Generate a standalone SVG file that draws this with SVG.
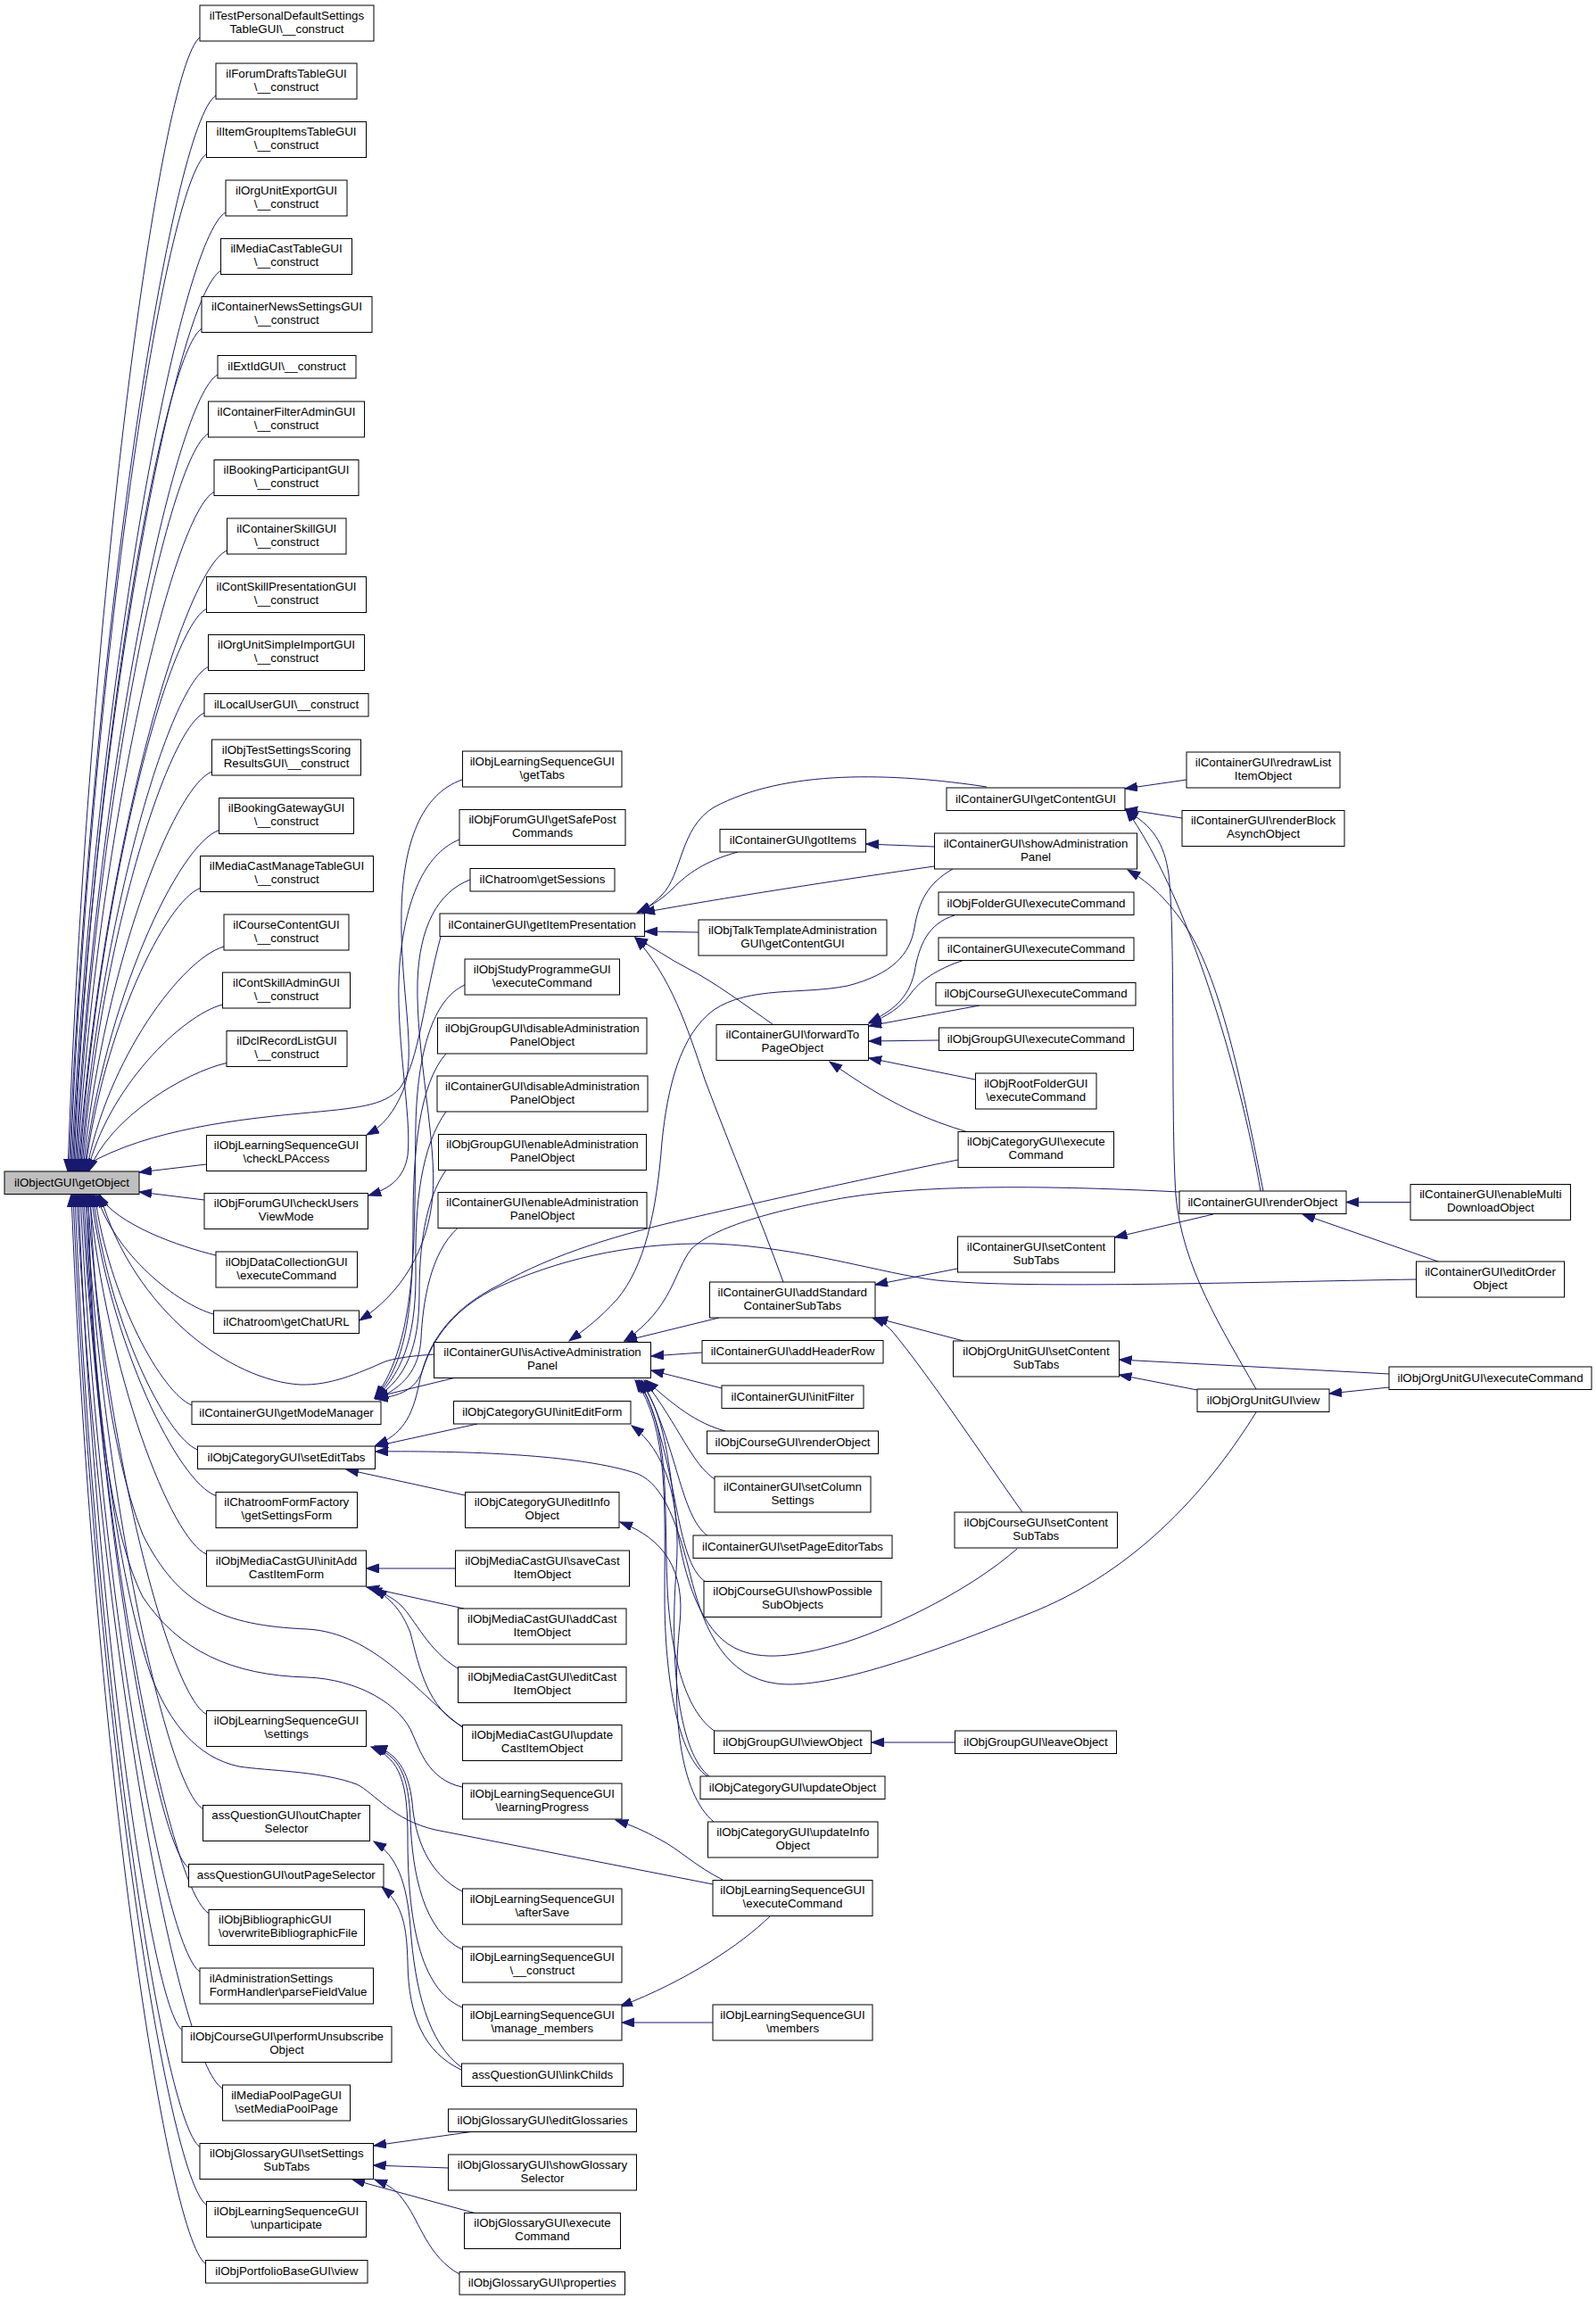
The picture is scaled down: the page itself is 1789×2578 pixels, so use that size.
<svg xmlns="http://www.w3.org/2000/svg" width="1789" height="2578" viewBox="0 0 1789 2578">
<defs>
<style>
.n rect{fill:#fff;stroke:#000;stroke-width:1}
.root rect{fill:#bfbfbf}
text{font-family:"Liberation Sans",Arial,Helvetica,sans-serif;font-size:13.33px;text-anchor:middle;fill:#000}
text.l{text-anchor:start}
.e path{fill:none;stroke:#191970;stroke-width:1;marker-end:url(#ah)}
</style>
<marker id="ah" markerUnits="userSpaceOnUse" markerWidth="15" markerHeight="11" refX="14" refY="5" orient="auto" viewBox="0 0 15 11">
<path d="M0,0 L14,5 L0,10 Z" fill="#191970" stroke="#191970" stroke-width="1"/>
</marker>
</defs>
<rect x="0" y="0" width="1789" height="2578" fill="#fff"/>
<g id="edges" class="e">
<path d="M224,42 C179.6,75.4 98.2,677.5 76,1313"/>
<path d="M242,107 C192.6,139.1 102,710 77.3,1313"/>
<path d="M231.5,172.5 C185.6,203.3 101.5,742.8 78.6,1313"/>
<path d="M253,238 C201.1,267.5 105.9,775.5 79.9,1313"/>
<path d="M247.5,303.5 C197.6,331.7 106.1,808.3 81.2,1313"/>
<path d="M226,368.5 C183,395.4 104,840.8 82.5,1313"/>
<path d="M244,420 C196,445.9 107.8,866.5 83.8,1313"/>
<path d="M233.5,486 C189,510.5 107.4,899.5 85.1,1313"/>
<path d="M240,551.5 C193.9,574.7 109.4,932.3 86.4,1313"/>
<path d="M254.5,617 C204.5,638.9 112.7,965 87.7,1313"/>
<path d="M231.5,682.5 C188.8,703.1 110.4,997.8 89,1313"/>
<path d="M233.5,747.5 C190.5,766.8 111.8,1030.3 90.3,1313"/>
<path d="M229,799 C187.8,817.3 112.2,1056 91.6,1313"/>
<path d="M237.5,865 C194.1,882 114.6,1089 92.9,1313"/>
<path d="M245.5,930.5 C200.1,946.2 116.9,1121.8 94.2,1313"/>
<path d="M224.5,995.5 C185.8,1009.9 114.9,1154.3 95.5,1313"/>
<path d="M251,1061 C204.7,1074 119.9,1187 96.8,1313"/>
<path d="M249.5,1126 C204.1,1137.7 120.8,1219.5 98.1,1313"/>
<path d="M254,1191.5 C207.6,1201.9 122.6,1252.3 99.4,1313"/>
<path d="M231.5,1305 L156,1314"/>
<path d="M229,1345 L156,1336"/>
<path d="M242,1407 C202.4,1397.6 129.8,1372.8 110,1338.5"/>
<path d="M239.5,1473 C200,1462.3 127.7,1405.8 108,1338.5"/>
<path d="M215,1575 C182.3,1562.3 122.4,1456.8 106,1338.5"/>
<path d="M221.5,1625 C186.3,1611.3 121.6,1481.8 104,1338.5"/>
<path d="M242,1676.5 C200,1661.7 123,1507.5 102,1338.5"/>
<path d="M231.5,1742 C192,1725.9 119.7,1540.3 100,1338.5"/>
<path d="M231.5,1921.5 C191.5,1901.8 118,1630 98,1338.5"/>
<path d="M227.5,2027.5 C188,2005.7 115.7,1683 96,1338.5"/>
<path d="M211.5,2093.5 C176.3,2070.4 111.6,1716 94,1338.5"/>
<path d="M234,2144.5 C191.4,2120.4 113.3,1741.5 92,1338.5"/>
<path d="M224,2210 C183.8,2184.6 110.1,1774.3 90,1338.5"/>
<path d="M204,2275.5 C169.2,2248.8 105.4,1807 88,1338.5"/>
<path d="M249.5,2341 C200.5,2313 110.5,1839.8 86,1338.5"/>
<path d="M224,2406.5 C182,2377.1 105,1872.5 84,1338.5"/>
<path d="M231.5,2471.5 C186.7,2440.8 104.4,1905 82,1338.5"/>
<path d="M230.5,2537.5 C185.4,2505.5 102.6,1938 80,1338.5"/>
<path d="M518,874 C472,890 452,945 450,1020 C448,1110 468,1180 452,1222 C442,1246 430,1262 411,1272"/>
<path d="M515,941 C480,955 455,1000 448,1080 C442,1160 462,1250 457,1295 C453,1320 438,1332 413,1340"/>
<path d="M527,986 C490,1000 470,1040 468,1100 C466,1180 490,1280 485,1340 C480,1400 450,1450 403,1480"/>
<path d="M494,1050 C475,1120 470,1190 448,1220 C430,1240 400,1242 337,1248 C250,1256 150,1270 85,1313"/>
<path d="M521,1104 C485,1120 468,1180 466,1260 C464,1380 470,1500 420,1567"/>
<path d="M500,1181 C470,1215 463,1290 463,1370 C463,1470 455,1530 420,1567"/>
<path d="M500,1246 C472,1285 465,1350 466,1420 C467,1490 455,1535 421,1567"/>
<path d="M500,1311.5 C476,1345 470,1400 470,1450 C470,1510 455,1545 421,1567"/>
<path d="M513,1376.5 C482,1405 474,1460 472,1500 C470,1535 452,1556 421,1568"/>
<path d="M509,1544.5 L421,1566"/>
<path d="M487,1518 C460,1520 445,1522 432,1526 C400,1540 370,1553 337,1552 C260,1548 150,1470 112,1339"/>
<path d="M535,1596 L421,1621"/>
<path d="M521,1676 L388,1647"/>
<path d="M1074,1300 C950,1325 840,1350 771,1366 C700,1382 620,1405 560,1440 C500,1470 478,1510 470,1550 C462,1590 450,1608 421,1620"/>
<path d="M1587.5,1434 C1400,1437 1150,1445 1050,1435 C990,1428 900,1398 800,1394 C700,1392 620,1415 560,1442 C510,1465 485,1500 474,1535 C466,1558 448,1565 421,1568"/>
<path d="M1322,1336 C1200,1330 1050,1326 950,1342 C870,1356 800,1375 775,1400 C755,1425 755,1465 700,1503"/>
<path d="M1408,1583 C1360,1660 1280,1760 1150,1810 C1050,1850 930,1895 870,1887 C815,1880 790,1830 775,1770 C760,1710 745,1665 715,1652 C650,1630 520,1626 421,1627"/>
<path d="M1140,1736 C1090,1780 1010,1820 950,1840 C900,1855 860,1862 830,1850 C790,1835 770,1780 760,1720 C750,1640 745,1580 716,1547"/>
<path d="M813,1604 C780,1595 755,1575 724,1547"/>
<path d="M801,1658 C775,1640 762,1600 722,1547"/>
<path d="M794,1722 C762,1700 760,1620 719,1547"/>
<path d="M791,1773 C755,1750 762,1640 717,1547"/>
<path d="M802,1941 C770,1920 752,1860 748,1780 C744,1680 752,1600 714,1547"/>
<path d="M793,1991 C760,1970 745,1880 745,1790 C745,1690 750,1600 712,1547"/>
<path d="M795,1991 C762,1965 750,1870 758,1760 C764,1680 745,1625 708,1598"/>
<path d="M800,2042 C762,2010 752,1920 762,1820 C768,1760 745,1725 695,1706"/>
<path d="M1070.5,1953 L977,1953"/>
<path d="M787,1516 L730,1520"/>
<path d="M809,1556 L730,1536"/>
<path d="M806,1477 L700,1503"/>
<path d="M878,1437 C850,1360 820,1290 790,1210 C770,1150 752,1095 712,1051"/>
<path d="M1068,974 C1040,990 1030,1010 1025,1040 C1020,1070 1000,1092 950,1105 C900,1115 840,1105 800,1132 C762,1160 748,1220 742,1280 C736,1360 722,1420 692,1456 C672,1478 656,1490 638,1503"/>
<path d="M1106,882 C1000,866 880,862 800,905 C762,928 765,980 742,1003 C732,1013 726,1017 716,1023"/>
<path d="M827,955 C790,965 770,980 755,995 C745,1005 735,1013 714,1023"/>
<path d="M1047,971 C950,985 800,1008 720,1023"/>
<path d="M1047,949 L971,946"/>
<path d="M783,1045 L723,1044"/>
<path d="M866,1148 C840,1130 800,1100 770,1085 C750,1075 733,1062 712,1051"/>
<path d="M1070,1026 C1040,1035 1030,1060 1025,1090 C1018,1120 1000,1133 974,1146"/>
<path d="M1081,1076 C1050,1086 1030,1100 1020,1115 C1008,1130 995,1139 974,1147"/>
<path d="M1098,1127 L974,1150"/>
<path d="M1052,1166 L974,1167"/>
<path d="M1093,1210 L974,1186"/>
<path d="M1085,1269 C1040,1255 1000,1240 930,1190"/>
<path d="M1413,1335 C1390,1200 1330,1000 1262,907"/>
<path d="M1408,1557 C1370,1490 1325,1420 1318,1340 C1312,1250 1318,1050 1310,980 C1305,945 1292,925 1262,908.5"/>
<path d="M1416,1335 C1395,1230 1370,1100 1330,1040 C1310,1010 1290,990 1264,975"/>
<path d="M1330,874 L1261,884"/>
<path d="M1325,917 L1261,907"/>
<path d="M1581,1347.5 L1509,1347.5"/>
<path d="M1612,1414 L1460,1361"/>
<path d="M1360,1361 L1249.5,1387"/>
<path d="M1073,1422 L981,1440"/>
<path d="M1080,1503 L981,1477"/>
<path d="M1146,1695 C1100,1630 1040,1540 1000,1492 C993,1485 988,1481 978,1477"/>
<path d="M1557,1540 L1254.5,1524"/>
<path d="M1342,1558 L1254.5,1541"/>
<path d="M1557,1555 L1490,1562"/>
<path d="M810,2107 C780,2092 760,2072 740,2062 C722,2052 708,2046 690,2040"/>
<path d="M863,2148 C830,2180 770,2220 695,2249"/>
<path d="M799,2267 L697,2267"/>
<path d="M518,2120 C480,2100 465,2060 462,2020 C458,1985 445,1965 420,1957"/>
<path d="M518,2185 C475,2165 462,2100 460,2040 C458,1990 448,1968 418,1958"/>
<path d="M518,2250 C470,2230 457,2150 457,2060 C457,2000 450,1972 416,1958"/>
<path d="M517,2317 C480,2290 465,2230 460,2160 C456,2110 445,2080 419,2064"/>
<path d="M517,2320 C475,2300 458,2260 457,2200 C456,2160 452,2135 428,2115"/>
<path d="M528,2389.5 L419,2405"/>
<path d="M502.5,2430 L418.5,2427"/>
<path d="M532,2480.5 L395,2443"/>
<path d="M515,2549 C480,2530 470,2490 455,2470 C445,2455 438,2450 420,2443"/>
<path d="M510.5,1758 L410.5,1758"/>
<path d="M520,1803 L411,1779"/>
<path d="M513,1870 C480,1850 465,1815 450,1800 C440,1790 428,1785 414,1780"/>
<path d="M518,1935 C480,1915 470,1870 460,1830 C450,1805 440,1795 420,1780"/>
<path d="M518,1936 C470,1900 420,1830 344,1826 C250,1822 200,1800 160,1720 C120,1620 105,1450 101,1339"/>
<path d="M518,2003 C480,1995 470,1960 463,1945 C450,1910 400,1882 344,1880 C260,1878 200,1850 160,1790 C115,1700 102,1500 99,1339"/>
<path d="M799,2112 L488,2051 C440,2040 420,2010 400,2000 C360,1985 300,1985 268,1980 C220,1970 190,1930 170,1880 C125,1750 100,1500 97,1339"/>
</g>
<g id="n_getObject" class="n root"><rect x="5" y="1313" width="151" height="25.5"/><text x="80.5" y="1329.8">ilObjectGUI\getObject</text></g>
<g id="n_c2_1" class="n"><rect x="224" y="6" width="195" height="40"/><text x="321.5" y="21.8">ilTestPersonalDefaultSettings</text><text x="321.5" y="36.5">TableGUI\__construct</text></g>
<g id="n_c2_2" class="n"><rect x="242" y="71" width="158" height="40"/><text x="321" y="86.8">ilForumDraftsTableGUI</text><text x="321" y="101.5">\__construct</text></g>
<g id="n_c2_3" class="n"><rect x="231.5" y="136.5" width="179" height="40"/><text x="321" y="152.3">ilItemGroupItemsTableGUI</text><text x="321" y="167">\__construct</text></g>
<g id="n_c2_4" class="n"><rect x="253" y="202" width="136" height="40"/><text x="321" y="217.8">ilOrgUnitExportGUI</text><text x="321" y="232.5">\__construct</text></g>
<g id="n_c2_5" class="n"><rect x="247.5" y="267.5" width="147" height="40"/><text x="321" y="283.3">ilMediaCastTableGUI</text><text x="321" y="298">\__construct</text></g>
<g id="n_c2_6" class="n"><rect x="226" y="332.5" width="191" height="40"/><text x="321.5" y="348.3">ilContainerNewsSettingsGUI</text><text x="321.5" y="363">\__construct</text></g>
<g id="n_c2_7" class="n"><rect x="244" y="398.5" width="155" height="25.5"/><text x="321.5" y="415.3">ilExtIdGUI\__construct</text></g>
<g id="n_c2_8" class="n"><rect x="233.5" y="450" width="175" height="40"/><text x="321" y="465.8">ilContainerFilterAdminGUI</text><text x="321" y="480.5">\__construct</text></g>
<g id="n_c2_9" class="n"><rect x="240" y="515.5" width="162" height="40"/><text x="321" y="531.3">ilBookingParticipantGUI</text><text x="321" y="546">\__construct</text></g>
<g id="n_c2_10" class="n"><rect x="254.5" y="581" width="133.5" height="40"/><text x="321.3" y="596.8">ilContainerSkillGUI</text><text x="321.3" y="611.5">\__construct</text></g>
<g id="n_c2_11" class="n"><rect x="231.5" y="646.5" width="179" height="40"/><text x="321" y="662.3">ilContSkillPresentationGUI</text><text x="321" y="677">\__construct</text></g>
<g id="n_c2_12" class="n"><rect x="233.5" y="711.5" width="175" height="40"/><text x="321" y="727.3">ilOrgUnitSimpleImportGUI</text><text x="321" y="742">\__construct</text></g>
<g id="n_c2_13" class="n"><rect x="229" y="777.5" width="184" height="25.5"/><text x="321" y="794.3">ilLocalUserGUI\__construct</text></g>
<g id="n_c2_14" class="n"><rect x="237.5" y="829" width="167" height="40"/><text x="321" y="844.8">ilObjTestSettingsScoring</text><text x="321" y="859.5">ResultsGUI\__construct</text></g>
<g id="n_c2_15" class="n"><rect x="245.5" y="894.5" width="151" height="40"/><text x="321" y="910.3">ilBookingGatewayGUI</text><text x="321" y="925">\__construct</text></g>
<g id="n_c2_16" class="n"><rect x="224.5" y="959.5" width="194" height="40"/><text x="321.5" y="975.3">ilMediaCastManageTableGUI</text><text x="321.5" y="990">\__construct</text></g>
<g id="n_c2_17" class="n"><rect x="251" y="1025" width="140" height="40"/><text x="321" y="1040.8">ilCourseContentGUI</text><text x="321" y="1055.5">\__construct</text></g>
<g id="n_c2_18" class="n"><rect x="249.5" y="1090" width="143" height="40"/><text x="321" y="1105.8">ilContSkillAdminGUI</text><text x="321" y="1120.5">\__construct</text></g>
<g id="n_c2_19" class="n"><rect x="254" y="1155.5" width="135" height="40"/><text x="321.5" y="1171.3">ilDclRecordListGUI</text><text x="321.5" y="1186">\__construct</text></g>
<g id="n_c2_20" class="n"><rect x="231.5" y="1272.5" width="179" height="40"/><text x="321" y="1288.3">ilObjLearningSequenceGUI</text><text x="321" y="1303">\checkLPAccess</text></g>
<g id="n_c2_21" class="n"><rect x="229" y="1337.5" width="183.5" height="40"/><text x="320.8" y="1353.3">ilObjForumGUI\checkUsers</text><text x="320.8" y="1368">ViewMode</text></g>
<g id="n_c2_22" class="n"><rect x="242" y="1403" width="158.5" height="40"/><text x="321.3" y="1418.8">ilObjDataCollectionGUI</text><text x="321.3" y="1433.5">\executeCommand</text></g>
<g id="n_c2_23" class="n"><rect x="239.5" y="1469" width="163" height="25.5"/><text x="321" y="1485.8">ilChatroom\getChatURL</text></g>
<g id="n_c2_24" class="n"><rect x="215" y="1571" width="212" height="25.5"/><text x="321" y="1587.8">ilContainerGUI\getModeManager</text></g>
<g id="n_c2_25" class="n"><rect x="221.5" y="1621" width="199" height="25.5"/><text x="321" y="1637.8">ilObjCategoryGUI\setEditTabs</text></g>
<g id="n_c2_26" class="n"><rect x="242" y="1672.5" width="158.5" height="40"/><text x="321.3" y="1688.3">ilChatroomFormFactory</text><text x="321.3" y="1703">\getSettingsForm</text></g>
<g id="n_c2_27" class="n"><rect x="231.5" y="1738" width="179" height="40"/><text x="321" y="1753.8">ilObjMediaCastGUI\initAdd</text><text x="321" y="1768.5">CastItemForm</text></g>
<g id="n_c2_28" class="n"><rect x="231.5" y="1917.5" width="179" height="40"/><text x="321" y="1933.3">ilObjLearningSequenceGUI</text><text x="321" y="1948">\settings</text></g>
<g id="n_c2_29" class="n"><rect x="227.5" y="2023.5" width="187" height="40"/><text x="321" y="2039.3">assQuestionGUI\outChapter</text><text x="321" y="2054">Selector</text></g>
<g id="n_c2_30" class="n"><rect x="211.5" y="2089.5" width="218.5" height="25.5"/><text x="320.8" y="2106.3">assQuestionGUI\outPageSelector</text></g>
<g id="n_c2_31" class="n"><rect x="234" y="2140.5" width="174.5" height="40"/><text class="l" x="245" y="2156.3">ilObjBibliographicGUI</text><text class="l" x="245" y="2171">\overwriteBibliographicFile</text></g>
<g id="n_c2_32" class="n"><rect x="224" y="2206" width="194.5" height="40"/><text class="l" x="234.7" y="2221.8">ilAdministrationSettings</text><text class="l" x="234.7" y="2236.5">FormHandler\parseFieldValue</text></g>
<g id="n_c2_33" class="n"><rect x="204" y="2271.5" width="235" height="40"/><text x="321.5" y="2287.3">ilObjCourseGUI\performUnsubscribe</text><text x="321.5" y="2302">Object</text></g>
<g id="n_c2_34" class="n"><rect x="249.5" y="2337" width="143" height="40"/><text x="321" y="2352.8">ilMediaPoolPageGUI</text><text x="321" y="2367.5">\setMediaPoolPage</text></g>
<g id="n_c2_35" class="n"><rect x="224" y="2402.5" width="194.5" height="40"/><text x="321.3" y="2418.3">ilObjGlossaryGUI\setSettings</text><text x="321.3" y="2433">SubTabs</text></g>
<g id="n_c2_36" class="n"><rect x="231.5" y="2467.5" width="179" height="40"/><text x="321" y="2483.3">ilObjLearningSequenceGUI</text><text x="321" y="2498">\unparticipate</text></g>
<g id="n_c2_37" class="n"><rect x="230.5" y="2533.5" width="181.5" height="25.5"/><text x="321.3" y="2550.3">ilObjPortfolioBaseGUI\view</text></g>
<g id="n_c3_1" class="n"><rect x="518.5" y="842" width="178.5" height="40"/><text x="607.8" y="857.8">ilObjLearningSequenceGUI</text><text x="607.8" y="872.5">\getTabs</text></g>
<g id="n_c3_2" class="n"><rect x="515" y="907.5" width="186" height="40"/><text x="608" y="923.3">ilObjForumGUI\getSafePost</text><text x="608" y="938">Commands</text></g>
<g id="n_c3_3" class="n"><rect x="527" y="973.5" width="162" height="25.5"/><text x="608" y="990.3">ilChatroom\getSessions</text></g>
<g id="n_c3_4" class="n"><rect x="493" y="1024" width="229.5" height="25.5"/><text x="607.8" y="1040.8">ilContainerGUI\getItemPresentation</text></g>
<g id="n_c3_5" class="n"><rect x="521" y="1075" width="173.5" height="40"/><text x="607.8" y="1090.8">ilObjStudyProgrammeGUI</text><text x="607.8" y="1105.5">\executeCommand</text></g>
<g id="n_c3_6" class="n"><rect x="490.5" y="1141" width="234.5" height="40"/><text x="607.8" y="1156.8">ilObjGroupGUI\disableAdministration</text><text x="607.8" y="1171.5">PanelObject</text></g>
<g id="n_c3_7" class="n"><rect x="490" y="1206" width="236" height="40"/><text x="608" y="1221.8">ilContainerGUI\disableAdministration</text><text x="608" y="1236.5">PanelObject</text></g>
<g id="n_c3_8" class="n"><rect x="491.5" y="1271.5" width="233" height="40"/><text x="608" y="1287.3">ilObjGroupGUI\enableAdministration</text><text x="608" y="1302">PanelObject</text></g>
<g id="n_c3_9" class="n"><rect x="491" y="1336.5" width="234" height="40"/><text x="608" y="1352.3">ilContainerGUI\enableAdministration</text><text x="608" y="1367">PanelObject</text></g>
<g id="n_c3_10" class="n"><rect x="486.5" y="1504.5" width="243" height="40"/><text x="608" y="1520.3">ilContainerGUI\isActiveAdministration</text><text x="608" y="1535">Panel</text></g>
<g id="n_c3_11" class="n"><rect x="508.5" y="1570.5" width="198.5" height="25.5"/><text x="607.8" y="1587.3">ilObjCategoryGUI\initEditForm</text></g>
<g id="n_c3_12" class="n"><rect x="521.5" y="1672.5" width="172.5" height="40"/><text x="607.8" y="1688.3">ilObjCategoryGUI\editInfo</text><text x="607.8" y="1703">Object</text></g>
<g id="n_c3_13" class="n"><rect x="510.5" y="1738" width="195" height="40"/><text x="608" y="1753.8">ilObjMediaCastGUI\saveCast</text><text x="608" y="1768.5">ItemObject</text></g>
<g id="n_c3_14" class="n"><rect x="513.5" y="1803" width="188.5" height="40"/><text x="607.8" y="1818.8">ilObjMediaCastGUI\addCast</text><text x="607.8" y="1833.5">ItemObject</text></g>
<g id="n_c3_15" class="n"><rect x="513.5" y="1868.5" width="188.5" height="40"/><text x="607.8" y="1884.3">ilObjMediaCastGUI\editCast</text><text x="607.8" y="1899">ItemObject</text></g>
<g id="n_c3_16" class="n"><rect x="518.5" y="1933.5" width="178.5" height="40"/><text x="607.8" y="1949.3">ilObjMediaCastGUI\update</text><text x="607.8" y="1964">CastItemObject</text></g>
<g id="n_c3_17" class="n"><rect x="518.5" y="1999" width="178.5" height="40"/><text x="607.8" y="2014.8">ilObjLearningSequenceGUI</text><text x="607.8" y="2029.5">\learningProgress</text></g>
<g id="n_c3_18" class="n"><rect x="518.5" y="2117" width="178.5" height="40"/><text x="607.8" y="2132.8">ilObjLearningSequenceGUI</text><text x="607.8" y="2147.5">\afterSave</text></g>
<g id="n_c3_19" class="n"><rect x="518.5" y="2182" width="178.5" height="40"/><text x="607.8" y="2197.8">ilObjLearningSequenceGUI</text><text x="607.8" y="2212.5">\__construct</text></g>
<g id="n_c3_20" class="n"><rect x="518.5" y="2247" width="178.5" height="40"/><text x="607.8" y="2262.8">ilObjLearningSequenceGUI</text><text x="607.8" y="2277.5">\manage_members</text></g>
<g id="n_c3_21" class="n"><rect x="517.5" y="2313" width="181" height="25.5"/><text x="608" y="2329.8">assQuestionGUI\linkChilds</text></g>
<g id="n_c3_22" class="n"><rect x="502.5" y="2364" width="211" height="25.5"/><text x="608" y="2380.8">ilObjGlossaryGUI\editGlossaries</text></g>
<g id="n_c3_23" class="n"><rect x="502.5" y="2415" width="211" height="40"/><text x="608" y="2430.8">ilObjGlossaryGUI\showGlossary</text><text x="608" y="2445.5">Selector</text></g>
<g id="n_c3_24" class="n"><rect x="520.5" y="2480.5" width="175" height="40"/><text x="608" y="2496.3">ilObjGlossaryGUI\execute</text><text x="608" y="2511">Command</text></g>
<g id="n_c3_25" class="n"><rect x="515" y="2546.5" width="185.5" height="25.5"/><text x="607.8" y="2563.3">ilObjGlossaryGUI\properties</text></g>
<g id="n_c4_1" class="n"><rect x="807" y="929.5" width="163.5" height="25.5"/><text x="888.8" y="946.3">ilContainerGUI\gotItems</text></g>
<g id="n_c4_2" class="n"><rect x="783" y="1031" width="211" height="40"/><text x="888.5" y="1046.8">ilObjTalkTemplateAdministration</text><text x="888.5" y="1061.5">GUI\getContentGUI</text></g>
<g id="n_c4_3" class="n"><rect x="803" y="1148.5" width="170.5" height="40"/><text x="888.3" y="1164.3">ilContainerGUI\forwardTo</text><text x="888.3" y="1179">PageObject</text></g>
<g id="n_c4_4" class="n"><rect x="795.5" y="1437" width="185.5" height="40"/><text x="888.3" y="1452.8">ilContainerGUI\addStandard</text><text x="888.3" y="1467.5">ContainerSubTabs</text></g>
<g id="n_c4_5" class="n"><rect x="787" y="1502.5" width="203" height="25.5"/><text x="888.5" y="1519.3">ilContainerGUI\addHeaderRow</text></g>
<g id="n_c4_6" class="n"><rect x="809" y="1553" width="159" height="25.5"/><text x="888.5" y="1569.8">ilContainerGUI\initFilter</text></g>
<g id="n_c4_7" class="n"><rect x="792.5" y="1604" width="192" height="25.5"/><text x="888.5" y="1620.8">ilObjCourseGUI\renderObject</text></g>
<g id="n_c4_8" class="n"><rect x="801" y="1655" width="175" height="40"/><text x="888.5" y="1670.8">ilContainerGUI\setColumn</text><text x="888.5" y="1685.5">Settings</text></g>
<g id="n_c4_9" class="n"><rect x="777" y="1721" width="223" height="25.5"/><text x="888.5" y="1737.8">ilContainerGUI\setPageEditorTabs</text></g>
<g id="n_c4_10" class="n"><rect x="789" y="1772.5" width="199" height="40"/><text x="888.5" y="1788.3">ilObjCourseGUI\showPossible</text><text x="888.5" y="1803">SubObjects</text></g>
<g id="n_c4_11" class="n"><rect x="800.5" y="1940" width="176" height="25.5"/><text x="888.5" y="1956.8">ilObjGroupGUI\viewObject</text></g>
<g id="n_c4_12" class="n"><rect x="785" y="1991" width="207" height="25.5"/><text x="888.5" y="2007.8">ilObjCategoryGUI\updateObject</text></g>
<g id="n_c4_13" class="n"><rect x="793.5" y="2042" width="190.5" height="40"/><text x="888.8" y="2057.8">ilObjCategoryGUI\updateInfo</text><text x="888.8" y="2072.5">Object</text></g>
<g id="n_c4_14" class="n"><rect x="799" y="2107.5" width="179" height="40"/><text x="888.5" y="2123.3">ilObjLearningSequenceGUI</text><text x="888.5" y="2138">\executeCommand</text></g>
<g id="n_c4_15" class="n"><rect x="799" y="2247" width="179" height="40"/><text x="888.5" y="2262.8">ilObjLearningSequenceGUI</text><text x="888.5" y="2277.5">\members</text></g>
<g id="n_c5_1" class="n"><rect x="1061" y="883" width="200" height="25.5"/><text x="1161" y="899.8">ilContainerGUI\getContentGUI</text></g>
<g id="n_c5_2" class="n"><rect x="1047.5" y="934" width="227" height="40"/><text x="1161" y="949.8">ilContainerGUI\showAdministration</text><text x="1161" y="964.5">Panel</text></g>
<g id="n_c5_3" class="n"><rect x="1052" y="1000" width="219" height="25.5"/><text x="1161.5" y="1016.8">ilObjFolderGUI\executeCommand</text></g>
<g id="n_c5_4" class="n"><rect x="1052" y="1051" width="219" height="25.5"/><text x="1161.5" y="1067.8">ilContainerGUI\executeCommand</text></g>
<g id="n_c5_5" class="n"><rect x="1049" y="1101.5" width="224" height="25.5"/><text x="1161" y="1118.3">ilObjCourseGUI\executeCommand</text></g>
<g id="n_c5_6" class="n"><rect x="1052.5" y="1152" width="218" height="25.5"/><text x="1161.5" y="1168.8">ilObjGroupGUI\executeCommand</text></g>
<g id="n_c5_7" class="n"><rect x="1093.5" y="1203" width="135.5" height="40"/><text x="1161.3" y="1218.8">ilObjRootFolderGUI</text><text x="1161.3" y="1233.5">\executeCommand</text></g>
<g id="n_c5_8" class="n"><rect x="1074" y="1268.5" width="174.5" height="40"/><text x="1161.3" y="1284.3">ilObjCategoryGUI\execute</text><text x="1161.3" y="1299">Command</text></g>
<g id="n_c5_9" class="n"><rect x="1073.5" y="1386" width="176" height="40"/><text x="1161.5" y="1401.8">ilContainerGUI\setContent</text><text x="1161.5" y="1416.5">SubTabs</text></g>
<g id="n_c5_10" class="n"><rect x="1068.5" y="1503" width="186" height="40"/><text x="1161.5" y="1518.8">ilObjOrgUnitGUI\setContent</text><text x="1161.5" y="1533.5">SubTabs</text></g>
<g id="n_c5_11" class="n"><rect x="1070" y="1695" width="182.5" height="40"/><text x="1161.3" y="1710.8">ilObjCourseGUI\setContent</text><text x="1161.3" y="1725.5">SubTabs</text></g>
<g id="n_c5_12" class="n"><rect x="1070.5" y="1940" width="181" height="25.5"/><text x="1161" y="1956.8">ilObjGroupGUI\leaveObject</text></g>
<g id="n_c6_1" class="n"><rect x="1330" y="843" width="172" height="40"/><text x="1416" y="858.8">ilContainerGUI\redrawList</text><text x="1416" y="873.5">ItemObject</text></g>
<g id="n_c6_2" class="n"><rect x="1325" y="908.5" width="182" height="40"/><text x="1416" y="924.3">ilContainerGUI\renderBlock</text><text x="1416" y="939">AsynchObject</text></g>
<g id="n_c6_3" class="n"><rect x="1322" y="1335" width="187" height="25.5"/><text x="1415.5" y="1351.8">ilContainerGUI\renderObject</text></g>
<g id="n_c6_4" class="n"><rect x="1342" y="1557" width="148" height="25.5"/><text x="1416" y="1573.8">ilObjOrgUnitGUI\view</text></g>
<g id="n_c7_1" class="n"><rect x="1581" y="1327.5" width="179.5" height="40"/><text x="1670.8" y="1343.3">ilContainerGUI\enableMulti</text><text x="1670.8" y="1358">DownloadObject</text></g>
<g id="n_c7_2" class="n"><rect x="1587.5" y="1414" width="166" height="40"/><text x="1670.5" y="1429.8">ilContainerGUI\editOrder</text><text x="1670.5" y="1444.5">Object</text></g>
<g id="n_c7_3" class="n"><rect x="1557" y="1532" width="227" height="25.5"/><text x="1670.5" y="1548.8">ilObjOrgUnitGUI\executeCommand</text></g>
</svg>
